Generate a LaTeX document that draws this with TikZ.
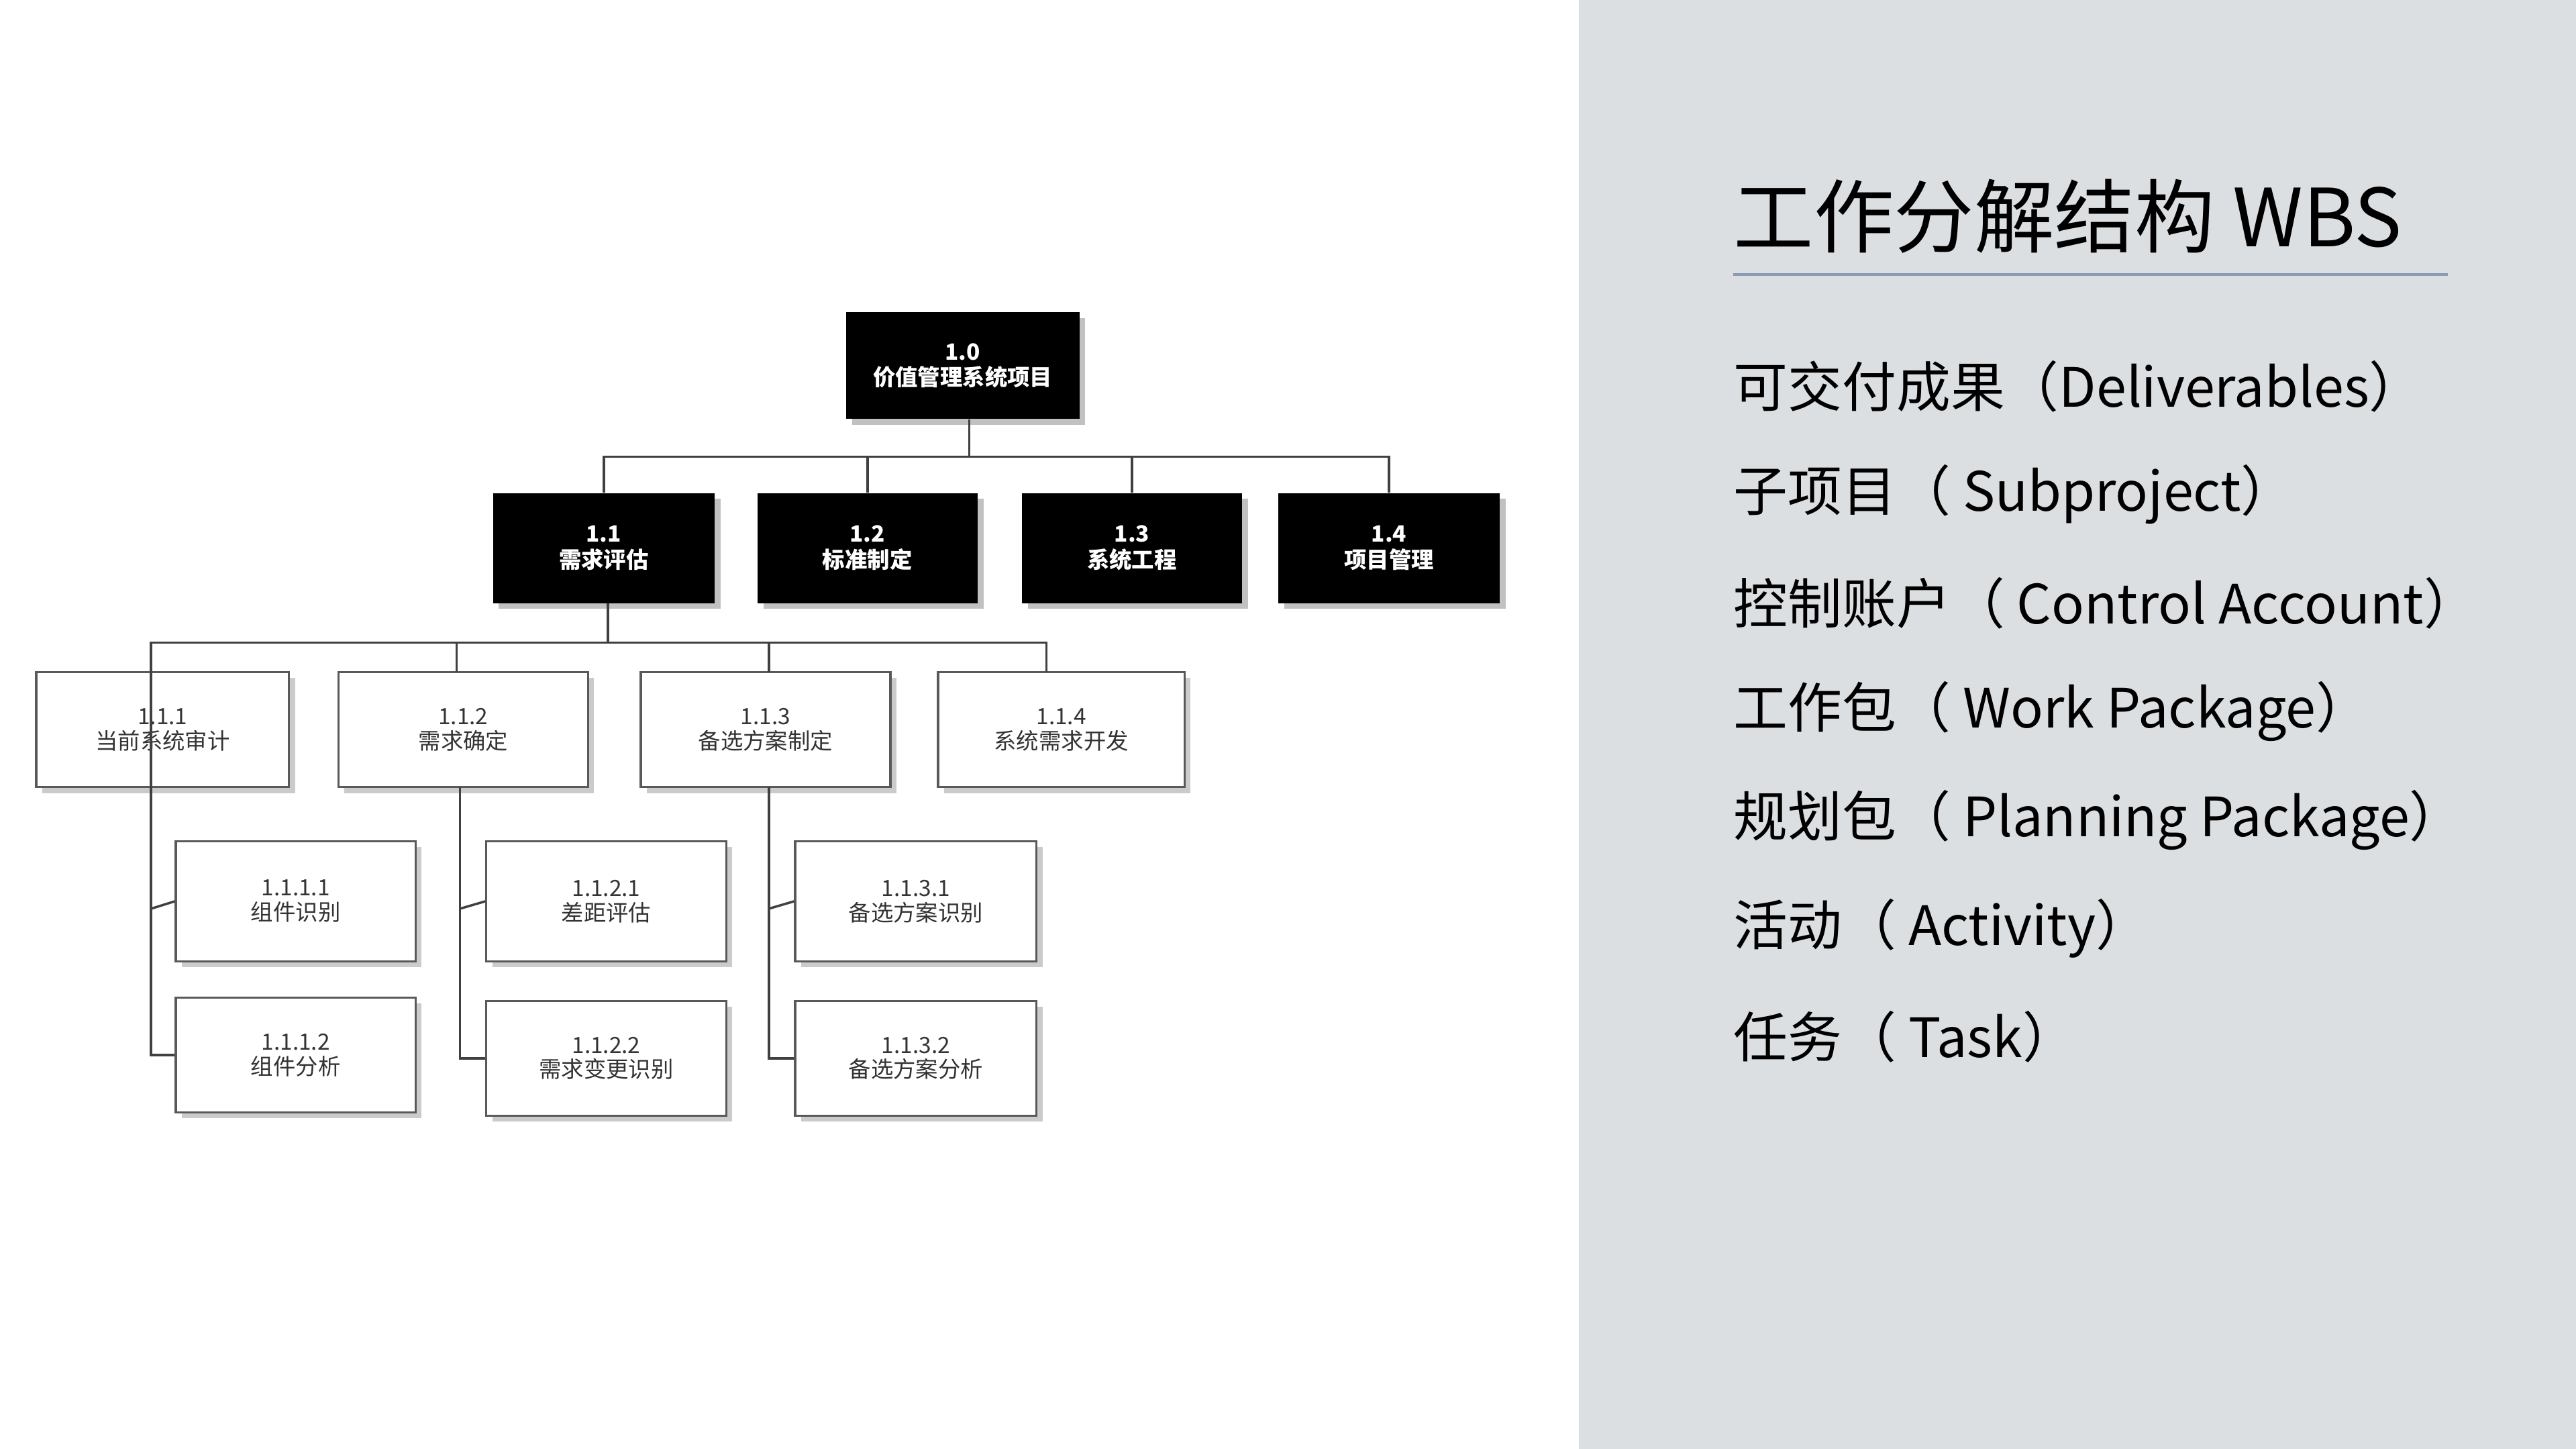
\documentclass[tikz,border=0pt]{standalone}
\usepackage{fontspec}
\setmainfont{Noto Sans CJK SC}
\usetikzlibrary{shadows}
\definecolor{panel}{HTML}{DCDFE1}
\definecolor{rule}{HTML}{8A9BB5}
\tikzset{
 sz/.style 2 args={minimum width=#1*0.6966pt,minimum height=#2*0.6966pt,inner sep=0pt,align=center},
 blk/.style={fill=black,text=white,font=\fontsize{9.5}{11}\selectfont\bfseries,
   drop shadow={shadow xshift=2.5pt,shadow yshift=-2.5pt,fill=gray!60,opacity=0.8}},
 wht/.style={fill=white,draw=gray!70!black,line width=0.9pt,text=gray!40!black,font=\fontsize{9.5}{10.5}\selectfont,
   drop shadow={shadow xshift=2.5pt,shadow yshift=-2.5pt,fill=gray!50,opacity=0.8}},
 conn/.style={draw=gray!50!black,line width=1pt},
 lst/.style={anchor=west,font=\fontsize{23}{26}\selectfont,text=black,inner sep=0pt}
}
\begin{document}
\begin{tikzpicture}[x=0.024483cm,y=-0.024483cm]
\useasboundingbox (0,0) rectangle (1568,881.8);
\fill[white] (0,0) rectangle (961,881.8);
\fill[panel] (961,0) rectangle (1568,881.8);
% level 0/1
\node[blk,sz={142}{65}] (n10) at (586,222.5) {1.0\\价值管理系统项目};
\node[blk,sz={135}{67}] (n11) at (367.5,333.5) {1.1\\需求评估};
\node[blk,sz={134}{67}] (n12) at (528,333.5) {1.2\\标准制定};
\node[blk,sz={134}{67}] (n13) at (689,333.5) {1.3\\系统工程};
\node[blk,sz={135}{67}] (n14) at (845.5,333.5) {1.4\\项目管理};
% level 2
\node[wht,sz={154}{70}] (n111) at (99,444) {1.1.1\\当前系统审计};
\node[wht,sz={152}{70}] (n112) at (282,444) {1.1.2\\需求确定};
\node[wht,sz={152}{70}] (n113) at (466,444) {1.1.3\\备选方案制定};
\node[wht,sz={150}{70}] (n114) at (646,444) {1.1.4\\系统需求开发};
% level 3
\node[wht,sz={146}{73}] (a1) at (180,548.5) {1.1.1.1\\组件识别};
\node[wht,sz={146}{70}] (a2) at (180,642) {1.1.1.2\\组件分析};
\node[wht,sz={146}{73}] (b1) at (369,548.5) {1.1.2.1\\差距评估};
\node[wht,sz={146}{70}] (b2) at (369,644) {1.1.2.2\\需求变更识别};
\node[wht,sz={147}{73}] (c1) at (557.5,548.5) {1.1.3.1\\备选方案识别};
\node[wht,sz={147}{70}] (c2) at (557.5,644) {1.1.3.2\\备选方案分析};
% connectors
\coordinate (bus1) at (590,278);
\draw[conn] (n10.south -| bus1) -- (bus1);
\draw[conn] (n11.north) |- (bus1) -| (n14.north);
\draw[conn] (n12.north) -- (n12.north |- bus1);
\draw[conn] (n13.north) -- (n13.north |- bus1);
\coordinate (bus2) at (370,391);
\draw[conn] (n11.south -| bus2) -- (bus2);
\draw[conn] (92,479) |- (bus2) -| (637,409);
\draw[conn] (278,409) -- (278,391);
\draw[conn] (468,409) -- (468,391);
\draw[conn] (92,479) |- (a2.west); \draw[conn] (92,553) -- (a1.west);
\draw[conn] (280,479) |- (b2.west); \draw[conn] (280,553) -- (b1.west);
\draw[conn] (468,479) |- (c2.west); \draw[conn] (468,553) -- (c1.west);
% right panel
\node[anchor=base west,inner sep=0pt,font=\fontsize{34}{38}\selectfont] (title) at (1055,150) {工作分解结构 WBS};
\draw[rule,line width=1pt] (1055,167) -- (1490,167);
\node[lst] (l1) at (1055,235) {可交付成果（Deliverables）};
\node[lst] (l2) at (1055,301) {子项目（ Subproject）};
\node[lst] (l3) at (1055,367) {控制账户（ Control Account）};
\node[lst] (l4) at (1055,433) {工作包（ Work Package）};
\node[lst] (l5) at (1055,499) {规划包（ Planning Package）};
\node[lst] (l6) at (1055,565) {活动（ Activity）};
\node[lst] (l7) at (1055,631) {任务（ Task）};
\end{tikzpicture}
\end{document}
